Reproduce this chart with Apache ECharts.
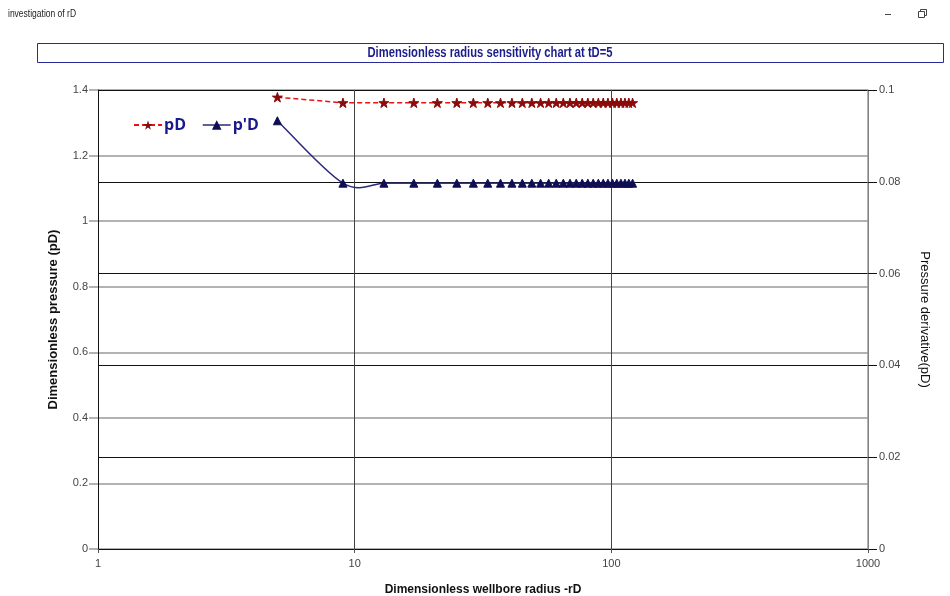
<!DOCTYPE html>
<html>
<head>
<meta charset="utf-8">
<script src="https://cdn.jsdelivr.net/npm/echarts@6/dist/echarts.min.js"></script>
<style>
html,body{margin:0;padding:0;background:#fff;}
#c{width:950px;height:596px;}
</style>
</head>
<body>
<div id="c"></div>
<script>
// ---- data ----
var rD = [5, 9, 13, 17, 21, 25, 29, 33, 37, 41, 45, 49, 53, 57, 61, 65, 69, 73, 77, 81, 85, 89, 93, 97, 101, 105, 109, 113, 117, 121];
var pD = [1.378, 1.361, 1.361, 1.361, 1.361, 1.361, 1.361, 1.361, 1.361, 1.361, 1.361, 1.361, 1.361, 1.361, 1.361, 1.361, 1.361, 1.361, 1.361, 1.361, 1.361, 1.361, 1.361, 1.361, 1.361, 1.361, 1.361, 1.361, 1.361, 1.361];
var pDprime = [0.0933, 0.0797, 0.0797, 0.0797, 0.0797, 0.0797, 0.0797, 0.0797, 0.0797, 0.0797, 0.0797, 0.0797, 0.0797, 0.0797, 0.0797, 0.0797, 0.0797, 0.0797, 0.0797, 0.0797, 0.0797, 0.0797, 0.0797, 0.0797, 0.0797, 0.0797, 0.0797, 0.0797, 0.0797, 0.0797];
var seriesNames = ['pD', "p'D"];
var chartTitle = 'Dimensionless radius sensitivity chart at tD=5';
var windowTitle = 'investigation of rD';
var xName = 'Dimensionless wellbore radius -rD';
var yLeftName = 'Dimensionless pressure (pD)';
var yRightName = 'Pressure derivative(pD)';

function pairs(xs, ys) { return xs.map(function (x, i) { return [x, ys[i]]; }); }

var sans = "'Liberation Sans', Arial, sans-serif";
var star = 'path://M50,0 L61,35 L98,35 L68,57 L79,91 L50,70 L21,91 L32,57 L2,35 L39,35 Z';
var navyLine = '#2a2a7a';

var chart = echarts.init(document.getElementById('c'), null, { renderer: 'canvas' });
chart.setOption({
  backgroundColor: '#ffffff',
  animation: false,
  graphic: [
    { type: 'rect', shape: { x: 37.5, y: 43.5, width: 906, height: 19 }, style: { fill: 'none', stroke: '#2a2a9a', lineWidth: 1 }, z: 0 },
    { type: 'text', x: 490, y: 53.5, scaleX: 0.8, style: { text: chartTitle, fill: '#1c1c8c', font: "bold 14px " + sans, align: 'center', verticalAlign: 'middle' } },
    { type: 'text', x: 8, y: 14, scaleX: 0.85, style: { text: windowTitle, fill: '#222', font: "10px " + sans, verticalAlign: 'middle' } },
    { type: 'line', shape: { x1: 885, y1: 14.5, x2: 891, y2: 14.5 }, style: { stroke: '#444', lineWidth: 1 } },
    { type: 'rect', shape: { x: 918.5, y: 11.5, width: 6, height: 6 }, style: { fill: '#fff', stroke: '#444', lineWidth: 1 } },
    { type: 'polyline', shape: { points: [[920.5, 11.5], [920.5, 9.5], [926.5, 9.5], [926.5, 15.5], [924.5, 15.5]] }, style: { fill: 'none', stroke: '#444', lineWidth: 1 } }
  ],
  legend: {
    left: 128, top: 112,
    itemWidth: 28, itemHeight: 12, itemGap: 16,
    data: [
      { name: seriesNames[0] },
      { name: seriesNames[1], lineStyle: { color: navyLine, width: 1.5, opacity: 1 } }
    ],
    textStyle: { color: '#1a1a8c', fontSize: 16, fontWeight: 'bold', fontFamily: "'Open Sans', " + sans, padding: [0, 0, 0, -3] }
  },
  grid: { left: 98, right: 82, top: 90, bottom: 47, containLabel: false, outerBoundsMode: 'none' },
  xAxis: {
    type: 'log', logBase: 10, min: 1, max: 1000,
    name: xName, nameLocation: 'middle', nameGap: 35,
    nameTextStyle: { color: '#111', fontSize: 12, fontWeight: 'bold', fontFamily: sans },
    axisLine: { show: true, lineStyle: { color: '#111', width: 1 } },
    axisTick: { show: true, length: 4, lineStyle: { color: '#555' } },
    minorTick: { show: false },
    axisLabel: { color: '#444', fontSize: 11, fontFamily: sans, margin: 9, formatter: function (v) { return String(Math.round(v)); } },
    splitLine: { show: true, lineStyle: { color: '#444', width: 1 } }
  },
  yAxis: [
    {
      type: 'value', min: 0, max: 1.4, interval: 0.2, position: 'left',
      name: yLeftName, nameLocation: 'middle', nameGap: 38,
      nameTextStyle: { color: '#111', fontSize: 13, fontWeight: 'bold', fontFamily: sans },
      axisLine: { show: true, lineStyle: { color: '#111', width: 1 } },
      axisTick: { show: true, length: 9, inside: false, lineStyle: { color: '#999', width: 1.5 } },
      axisLabel: { color: '#444', fontSize: 11, fontFamily: sans, margin: 10 },
      splitLine: { show: true, lineStyle: { color: '#999', width: 1.5 } }
    },
    {
      type: 'value', min: 0, max: 0.1, interval: 0.02, position: 'right',
      name: yRightName, nameLocation: 'middle', nameGap: 50, nameRotate: -90,
      nameTextStyle: { color: '#111', fontSize: 13, fontFamily: sans },
      axisLine: { show: true, lineStyle: { color: '#999', width: 1.5 } },
      axisTick: { show: true, length: 9, inside: false, lineStyle: { color: '#111', width: 1 } },
      axisLabel: { color: '#444', fontSize: 11, fontFamily: sans, margin: 11 },
      splitLine: { show: true, lineStyle: { color: '#111', width: 1 } }
    }
  ],
  series: [
    {
      name: seriesNames[0], type: 'line', yAxisIndex: 0,
      data: pairs(rD, pD),
      symbol: star, symbolSize: 10, symbolKeepAspect: true,
      itemStyle: { color: '#8b0a0a', borderColor: '#8b0a0a' },
      lineStyle: { color: '#ee1111', width: 1.5, type: [5, 3] },
      smooth: false, z: 4
    },
    {
      name: 'pprime-curve', type: 'custom', yAxisIndex: 1,
      data: pairs(rD, pDprime),
      silent: true, z: 3,
      renderItem: function (params, api) {
        var i = params.dataIndex, n = rD.length;
        if (i >= n - 1) return null;
        var P = function (k) { k = Math.max(0, Math.min(n - 1, k)); return api.coord([rD[k], pDprime[k]]); };
        var p0 = P(i - 1), p1 = P(i), p2 = P(i + 1), p3 = P(i + 2);
        return {
          type: 'bezierCurve',
          shape: {
            x1: p1[0], y1: p1[1], x2: p2[0], y2: p2[1],
            cpx1: p1[0] + (p2[0] - p0[0]) / 6, cpy1: p1[1] + (p2[1] - p0[1]) / 6,
            cpx2: p2[0] - (p3[0] - p1[0]) / 6, cpy2: p2[1] - (p3[1] - p1[1]) / 6
          },
          style: { stroke: navyLine, lineWidth: 1.5, fill: 'none' }
        };
      }
    },
    {
      name: seriesNames[1], type: 'line', yAxisIndex: 1,
      data: pairs(rD, pDprime),
      symbol: 'triangle', symbolSize: 8,
      itemStyle: { color: '#0e0e55', borderColor: '#0e0e55' },
      lineStyle: { color: navyLine, width: 1.5, opacity: 0 },
      z: 4
    }
  ]
});
</script>
</body>
</html>
